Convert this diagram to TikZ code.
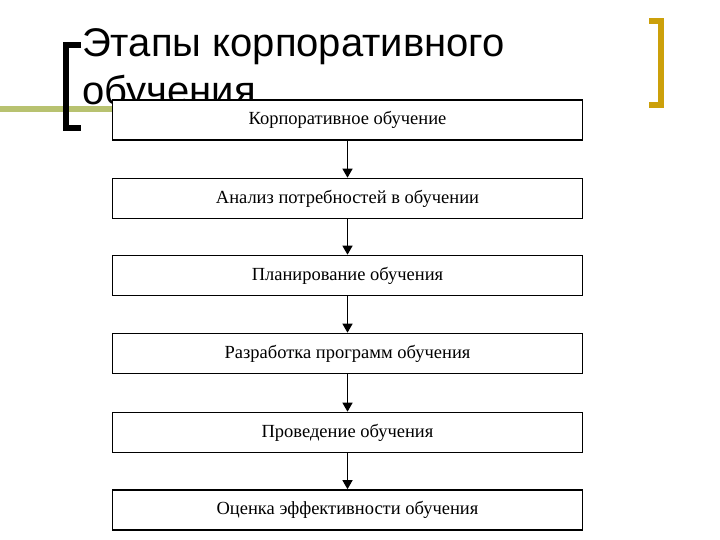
\documentclass[tikz,border=0pt]{standalone}
\usepackage{fontspec}
\setmainfont{Liberation Serif}
\newfontfamily\titlefont{Liberation Sans}
\usetikzlibrary{arrows.meta}
\definecolor{goldbr}{RGB}{204,160,10}
\definecolor{olivebar}{RGB}{184,194,112}
\tikzset{
  stagebox/.style={draw=black, line width=1.6pt, fill=white, minimum width=470pt, minimum height=40pt, inner sep=0pt, font=\fontsize{18.5}{22}\selectfont},
  flowarrow/.style={line width=1.3pt, -{Triangle[width=10pt,length=9pt]}},
  titletext/.style={anchor=base west, inner sep=0pt, font=\titlefont\fontsize{40}{44}\selectfont}
}
\begin{document}
\begin{tikzpicture}[x=1pt,y=-1pt]
\useasboundingbox (0,0) rectangle (720,540);
% green bar
\fill[olivebar] (0,106) rectangle (115,112);
% left black bracket
\draw[line width=6pt, line cap=butt] (81,45) -- (66,45) -- (66,128) -- (81,128);
% right gold bracket
\draw[goldbr, line width=6pt] (649,21) -- (661,21) -- (661,105) -- (649,105);
% title
\node[titletext] (t1) at (82,57) {Этапы корпоративного};
\node[titletext] (t2) at (82,105) {обучения};
% boxes
\node[stagebox] (b1) at (347.5,120) {Корпоративное обучение};
\node[stagebox] (b2) at (347.5,198.5) {Анализ потребностей в обучении};
\node[stagebox] (b3) at (347.5,275.5) {Планирование обучения};
\node[stagebox] (b4) at (347.5,353.5) {Разработка программ обучения};
\node[stagebox] (b5) at (347.5,432.5) {Проведение обучения};
\node[stagebox] (b6) at (347.5,510) {Оценка эффективности обучения};
% arrows
\draw[flowarrow] (b1) -- (b2);
\draw[flowarrow] (b2) -- (b3);
\draw[flowarrow] (b3) -- (b4);
\draw[flowarrow] (b4) -- (b5);
\draw[flowarrow] (b5) -- (b6);
\end{tikzpicture}
\end{document}
